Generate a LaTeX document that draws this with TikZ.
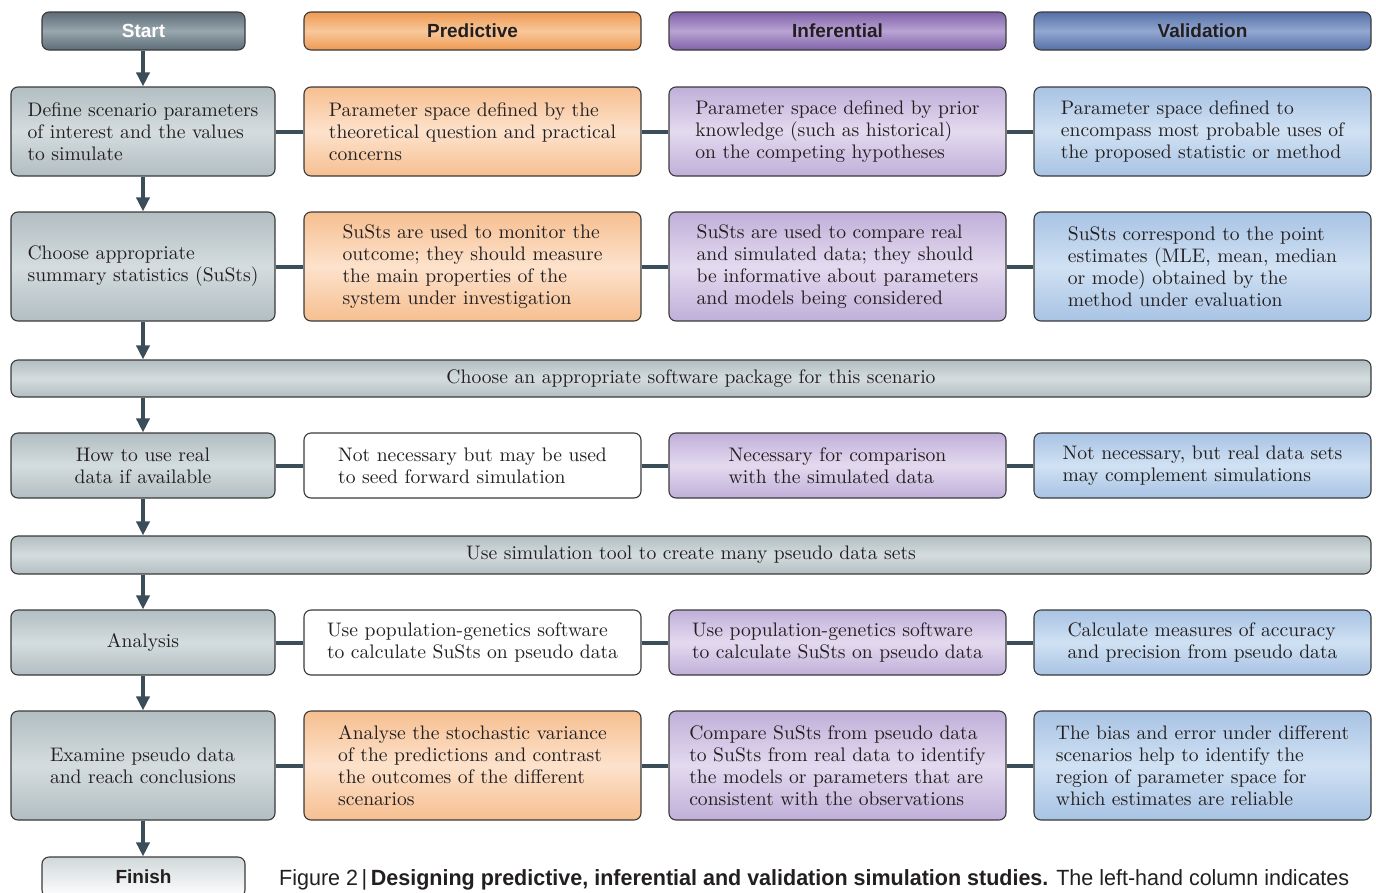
\documentclass[tikz,border=0pt]{standalone}
\usepackage{fontspec}
\newfontfamily\headfont{Liberation Sans}
\newfontfamily\bodyfont{lmroman10-regular.otf}
\usetikzlibrary{arrows.meta}

\definecolor{ink}{HTML}{231F20}
\definecolor{slate}{HTML}{3B4D59}
\definecolor{boxline}{HTML}{3A3A3A}
\definecolor{startedge}{HTML}{5D6C76}
\definecolor{startmid}{HTML}{98A6AD}
\definecolor{greyedge}{HTML}{B2BEC2}
\definecolor{greymid}{HTML}{D4DCDE}
\definecolor{orgheadedge}{HTML}{EE9A52}
\definecolor{orgheadmid}{HTML}{F8C79A}
\definecolor{orgedge}{HTML}{F6BF90}
\definecolor{orgmid}{HTML}{FDE2CC}
\definecolor{purheadedge}{HTML}{8062A8}
\definecolor{purheadmid}{HTML}{B9A3D4}
\definecolor{puredge}{HTML}{C0AFD9}
\definecolor{purmid}{HTML}{E3DAEF}
\definecolor{bluheadedge}{HTML}{5670A8}
\definecolor{bluheadmid}{HTML}{92A8D0}
\definecolor{bluedge}{HTML}{A8C3E4}
\definecolor{blumid}{HTML}{D0E1F3}

\begin{document}
\begin{tikzpicture}[x=1pt, y=-1pt,
    box/.style={draw=boxline, line width=1.1pt, rounded corners=7pt,
                inner sep=0pt, text=ink, align=left,
                font=\bodyfont\fontsize{19.6}{22}\selectfont},
    head/.style={box, minimum height=38pt,
                 font=\headfont\bfseries\fontsize{19}{22}\selectfont},
    lcol/.style={box, minimum width=264pt, top color=greyedge,
                 bottom color=greyedge, middle color=greymid},
    pcol/.style={box, minimum width=337pt, top color=orgedge,
                 bottom color=orgedge, middle color=orgmid},
    icol/.style={box, minimum width=337pt, top color=puredge,
                 bottom color=puredge, middle color=purmid},
    vcol/.style={box, minimum width=337pt, top color=bluedge,
                 bottom color=bluedge, middle color=blumid},
    plain/.style={box, minimum width=337pt, fill=white},
    bar/.style={box, minimum width=1360pt, top color=greyedge,
                bottom color=greyedge, middle color=greymid},
    flow/.style={draw=slate, line width=4.5pt,
                 -{Triangle[length=14pt,width=13pt]}},
    link/.style={draw=slate, line width=4pt}
    ]
\useasboundingbox (0,0) rectangle (1376,892);

% column heads
\node[head, minimum width=203pt, text=white, top color=startedge,
      bottom color=startedge, middle color=startmid] (start) at (143.5,31) {Start};
\node[head, minimum width=337pt, top color=orgheadedge,
      bottom color=orgheadedge, middle color=orgheadmid] (pred) at (472.5,31) {Predictive};
\node[head, minimum width=337pt, top color=purheadedge,
      bottom color=purheadedge, middle color=purheadmid] (infer) at (837.5,31) {Inferential};
\node[head, minimum width=337pt, top color=bluheadedge,
      bottom color=bluheadedge, middle color=bluheadmid] (valid) at (1202.5,31) {Validation};

% row 1: parameters
\node[lcol, minimum height=89pt] (l1) at (143,131.5)
    {Define scenario parameters\\of interest and the values\\to simulate};
\node[pcol, minimum height=89pt] (p1) at (472.5,131.5)
    {Parameter space defined by the\\theoretical question and practical\\concerns};
\node[icol, minimum height=89pt] (i1) at (837.5,131.5)
    {Parameter space defined by prior\\knowledge (such as historical)\\on the competing hypotheses};
\node[vcol, minimum height=89pt] (v1) at (1202.5,131.5)
    {Parameter space defined to\\encompass most probable uses of\\the proposed statistic or method};

% row 2: summary statistics
\node[lcol, minimum height=109pt] (l2) at (143,266.5)
    {Choose appropriate\\summary statistics (SuSts)};
\node[pcol, minimum height=109pt] (p2) at (472.5,266.5)
    {SuSts are used to monitor the\\outcome; they should measure\\the main properties of the\\system under investigation};
\node[icol, minimum height=109pt] (i2) at (837.5,266.5)
    {SuSts are used to compare real\\and simulated data; they should\\be informative about parameters\\and models being considered};
\node[vcol, minimum height=109pt] (v2) at (1202.5,266.5)
    {SuSts correspond to the point\\estimates (MLE, mean, median\\or mode) obtained by the\\method under evaluation};

\node[bar, minimum height=37pt] (soft) at (691,378.5)
    {Choose an appropriate software package for this scenario};

% row 3: real data
\node[lcol, minimum height=65pt, align=center] (l3) at (143,465.5)
    {How to use real\\data if available};
\node[plain, minimum height=65pt] (p3) at (472.5,465.5)
    {Not necessary but may be used\\to seed forward simulation};
\node[icol, minimum height=65pt] (i3) at (837.5,465.5)
    {Necessary for comparison\\with the simulated data};
\node[vcol, minimum height=65pt] (v3) at (1202.5,465.5)
    {Not necessary, but real data sets\\may complement simulations};

\node[bar, minimum height=38pt] (simtool) at (691,555)
    {Use simulation tool to create many pseudo data sets};

% row 4: analysis
\node[lcol, minimum height=65pt] (l4) at (143,642.5) {Analysis};
\node[plain, minimum height=65pt] (p4) at (472.5,642.5)
    {Use population-genetics software\\to calculate SuSts on pseudo data};
\node[icol, minimum height=65pt] (i4) at (837.5,642.5)
    {Use population-genetics software\\to calculate SuSts on pseudo data};
\node[vcol, minimum height=65pt] (v4) at (1202.5,642.5)
    {Calculate measures of accuracy\\and precision from pseudo data};

% row 5: conclusions
\node[lcol, minimum height=109pt] (l5) at (143,765.5)
    {Examine pseudo data\\and reach conclusions};
\node[pcol, minimum height=109pt] (p5) at (472.5,765.5)
    {Analyse the stochastic variance\\of the predictions and contrast\\the outcomes of the different\\scenarios};
\node[icol, minimum height=109pt] (i5) at (837.5,765.5)
    {Compare SuSts from pseudo data\\to SuSts from real data to identify\\the models or parameters that are\\consistent with the observations};
\node[vcol, minimum height=109pt] (v5) at (1202.5,765.5)
    {The bias and error under different\\scenarios help to identify the\\region of parameter space for\\which estimates are reliable};

\node[head, minimum width=203pt, minimum height=40pt, text=ink,
      top color=greyedge!60, bottom color=white] (finish) at (143.5,877) {Finish};

% links across each row
\foreach \r in {1,...,5}{
    \draw[link] (l\r.east) -- (p\r.west);
    \draw[link] (p\r.east) -- (i\r.west);
    \draw[link] (i\r.east) -- (v\r.west);
}

% flow down the left-hand column
\foreach \a/\b in {start/l1, l1/l2, l2/soft, soft/l3, l3/simtool,
                   simtool/l4, l4/l5, l5/finish}
    \draw[flow] (\a.south -| l1) -- (\b.north -| l1);

\node[anchor=base west, inner sep=0pt, text=ink] (caption) at (279,885)
    {\resizebox{1070pt}{\height}{\headfont\fontsize{22}{24}\selectfont
     Figure 2\,|\,\textbf{Designing predictive, inferential and validation
     simulation studies.} The left-hand column indicates}};
\end{tikzpicture}
\end{document}
